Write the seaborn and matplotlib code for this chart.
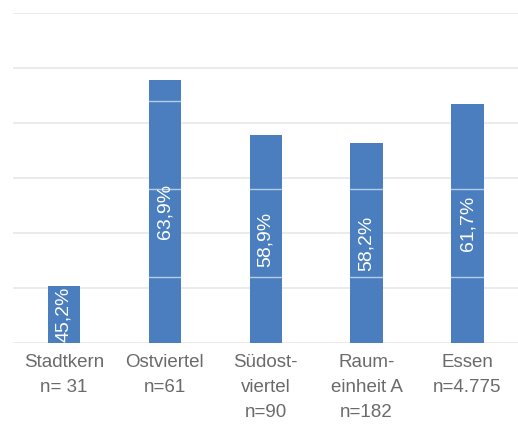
import matplotlib
matplotlib.use("Agg")
import matplotlib.pyplot as plt
import seaborn as sns
import pandas as pd

# Anteil je Gebiet (in %), Achse beginnt bei 40 %
gebiete = ["Stadtkern\nn= 31", "Ostviertel\nn=61", "Südost-\nviertel\nn=90",
           "Raum-\neinheit A\nn=182", "Essen\nn=4.775"]
anteile = [45.2, 63.9, 58.9, 58.2, 61.7]

y_min, y_max = 40, 70
gitter = [40, 45, 50, 55, 60, 65, 70]
hilfslinien = [46, 54, 62]

bar_color = "#4a7ebf"
text_grey = "#6a6a6a"

sns.set_theme(style="white")
plt.rcParams["font.family"] = ["Liberation Sans", "DejaVu Sans"]

df = pd.DataFrame({"gebiet": gebiete, "anteil": anteile})

fig = plt.figure(figsize=(5.18, 4.24), dpi=100)
ax = fig.add_axes([0.026, 0.191, 0.974, 0.778])

sns.barplot(data=df, x="gebiet", y="anteil", color=bar_color, saturation=1,
            width=0.32, ax=ax, zorder=2)
for p in ax.patches:
    p.set_edgecolor("none")

ax.set_ylim(y_min, y_max)
ax.set_yticks(gitter)
ax.set_yticklabels([])
ax.tick_params(axis="y", length=0)
ax.yaxis.grid(True, color="#ebebeb", linewidth=1.4, zorder=0)
ax.set_axisbelow(True)

# feine helle Linien über den Balken
for h in hilfslinien:
    ax.axhline(h, color="white", linewidth=1.0, alpha=0.6, zorder=3)

for s in ax.spines.values():
    s.set_visible(False)

ax.set_xlabel("")
ax.set_ylabel("")
ax.tick_params(axis="x", length=0, pad=8, labelsize=13.5, labelcolor=text_grey)
for lbl in ax.get_xticklabels():
    lbl.set_linespacing(1.6)

for i, (p, v) in enumerate(zip(ax.patches, anteile)):
    x = p.get_x() + p.get_width() / 2
    t = ax.text(x, (y_min + v) / 2, f"{v:.1f}%".replace(".", ","),
                rotation=90, ha="center", va="center", color="white",
                fontsize=14, zorder=4)
    t.set_clip_path(p)

fig.savefig("out.png", dpi=100)
